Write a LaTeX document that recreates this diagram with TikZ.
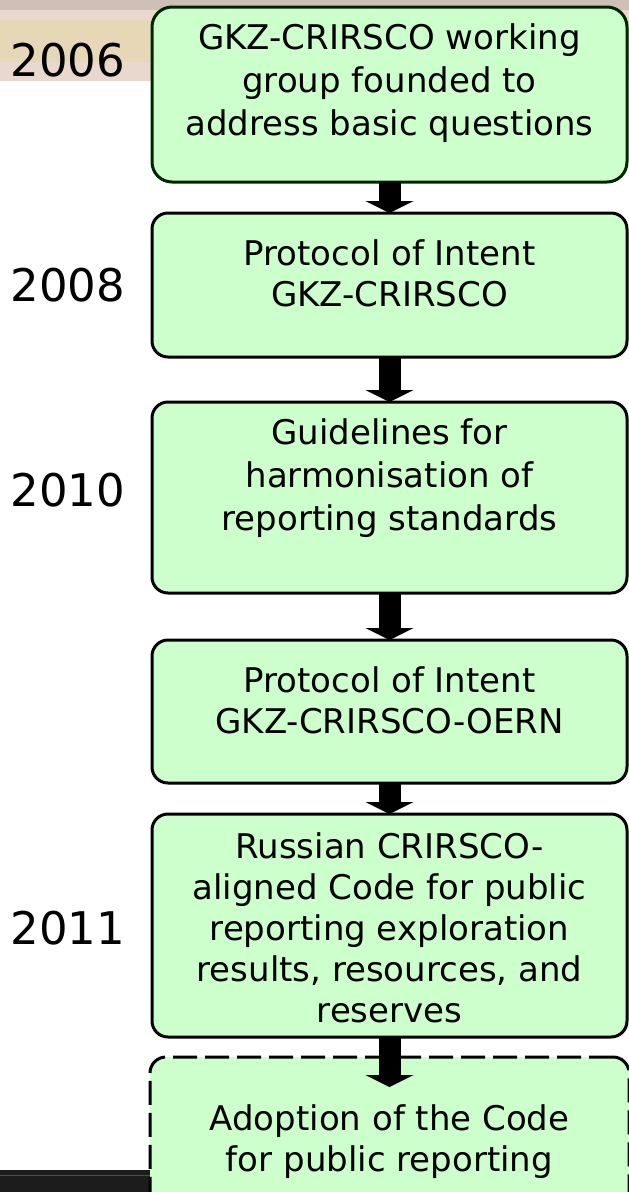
\documentclass[tikz,border=0pt]{standalone}
\usepackage{fontspec}
\setmainfont{DejaVu Sans}
\usetikzlibrary{positioning}
\usetikzlibrary{arrows.meta}

\definecolor{stagegreen}{RGB}{204,255,204}
\definecolor{bandtan}{RGB}{230,215,182}
\definecolor{bandpink}{RGB}{232,216,206}
\definecolor{bandgrey}{RGB}{206,192,182}
\definecolor{barblack}{RGB}{28,28,28}

\begin{document}
\begin{tikzpicture}[x=1pt, y=-1pt,
    stage/.style={draw, line width=3pt, rounded corners=16pt, fill=stagegreen, minimum width=475pt, inner sep=0pt, outer sep=0pt},
    stagetext/.style={align=center, font=\fontsize{34}{41}\selectfont},
    widetext/.style={align=center, font=\fontsize{34}{43}\selectfont},
    year/.style={font=\fontsize{45}{54}\selectfont},
    flow/.style={line width=22pt, -{Triangle[length=12pt, width=48pt, line width=0pt]}}]

    \useasboundingbox (0,0) rectangle (629,1192);
    \clip (0,0) rectangle (629,1192);

    % draw the top band and the bottom bar
    \path[fill=bandgrey] (0,0) rectangle (629,10);
    \path[fill=bandpink] (0,10) rectangle (629,20);
    \path[fill=bandtan] (0,20) rectangle (629,62);
    \path[fill=bandpink] (0,62) rectangle (629,81);
    \path[fill=barblack] (0,1170) rectangle (150,1192);
    \path[draw, black!70, line width=1pt] (0,1175) -- (150,1175);

    % draw the stages
    \node[stage, rounded corners=20pt, draw=black!85!green, minimum height=175pt] (s1) at (389.5,94.5) {};
    \node[stage, minimum height=144pt] (s2) at (389.5,285) {};
    \node[stage, minimum height=191pt] (s3) at (389.5,497.5) {};
    \node[stage, minimum height=143pt] (s4) at (389.5,711.5) {};
    \node[stage, minimum height=223pt] (s5) at (389.5,925.5) {};
    \node[stage, dashed, dash pattern=on 24pt off 8pt, minimum width=479pt, minimum height=170pt] (s6) at (389.5,1142) {};

    \node[widetext] (s1t) at ([yshift=11pt]s1.center) {GKZ-CRIRSCO working\\group founded to\\address basic questions};
    \node[stagetext] (s2t) at ([yshift=12pt]s2.center) {Protocol of Intent\\GKZ-CRIRSCO};
    \node[widetext] (s3t) at ([yshift=19pt]s3.center) {Guidelines for\\harmonisation of\\reporting standards};
    \node[stagetext] (s4t) at ([yshift=11pt]s4.center) {Protocol of Intent\\GKZ-CRIRSCO-OERN};
    \node[stagetext] (s5t) at ([yshift=-2pt]s5.center) {Russian CRIRSCO-\\aligned Code for public\\reporting exploration\\results, resources, and\\reserves};
    \node[stagetext] (s6t) at (s6.center) {Adoption of the Code\\for public reporting};

    % years
    \node[year] (y2006) at (68,60) {2006};
    \node[year] (y2008) at (68,285) {2008};
    \node[year] (y2010) at (68,490) {2010};
    \node[year] (y2011) at (68,928) {2011};

    % draw the arrows
    \path[draw, flow] (s1.south) -- (s2.north);
    \path[draw, flow] (s2.south) -- (s3.north);
    \path[draw, flow] (s3.south) -- (s4.north);
    \path[draw, flow] (s4.south) -- (s5.north);
    \path[draw, flow] (s5.south) -- ([yshift=-30pt]s6.north);

\end{tikzpicture}
\end{document}
